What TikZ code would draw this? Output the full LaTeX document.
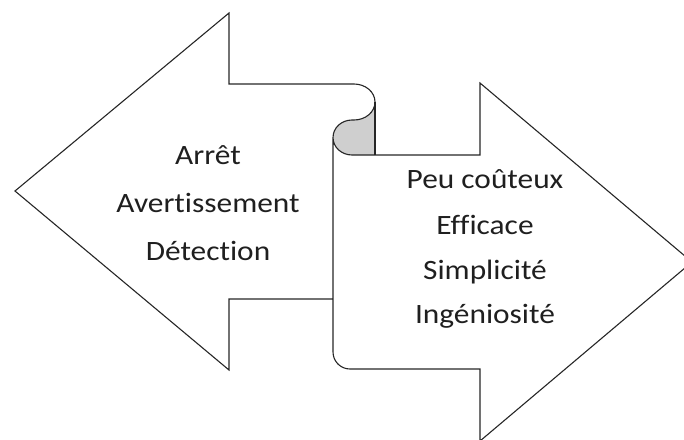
\documentclass[tikz,border=0pt]{standalone}
\usepackage{fontspec}
\setmainfont{Carlito}[Ligatures=NoCommon]
\begin{document}
\begin{tikzpicture}[x=1pt,y=-1pt,
  outline/.style={draw=black!85,line width=1.1pt,line join=miter},
  curl/.style={fill=black!19},
  lbl/.style={anchor=base,inner sep=0pt,text=black!88,xscale=1.12,font=\fontsize{28}{34}\selectfont}]
\useasboundingbox (0,0) rectangle (684,439);
\clip (0,0) rectangle (684,439);
% grey curl
\path[curl] (375,102) arc[start angle=0,end angle=90,x radius=21,y radius=18]
  -- (352,120) arc[start angle=270,end angle=90,x radius=19,y radius=17.5]
  -- (375,155) -- cycle;
% left arrow with scroll, right arrow
\draw[outline] (333,299) -- (229,299) -- (229,370) -- (15,191) -- (229,13) -- (229,84)
  -- (354,84) arc[start angle=-90,end angle=90,x radius=21,y radius=18]
  -- (352,120) arc[start angle=270,end angle=180,x radius=19,y radius=17.5]
  -- (333,352) arc[start angle=180,end angle=90,radius=17]
  -- (480,369) -- (480,441) -- (692,262) -- (480,83) -- (480,155) -- (352,155)
  arc[start angle=90,end angle=180,x radius=19,y radius=17.5];
\draw[outline] (375,102) -- (375,155);
% texts
\node[lbl] (t1) at (208,164) {Arrêt};
\node[lbl] (t2) at (208,212) {Avertissement};
\node[lbl] (t3) at (208,260) {Détection};
\node[lbl] (r1) at (485,188) {Peu coûteux};
\node[lbl] (r2) at (485,234) {Efficace};
\node[lbl] (r3) at (485,279) {Simplicité};
\node[lbl] (r4) at (485,323) {Ingéniosité};
\end{tikzpicture}
\end{document}
